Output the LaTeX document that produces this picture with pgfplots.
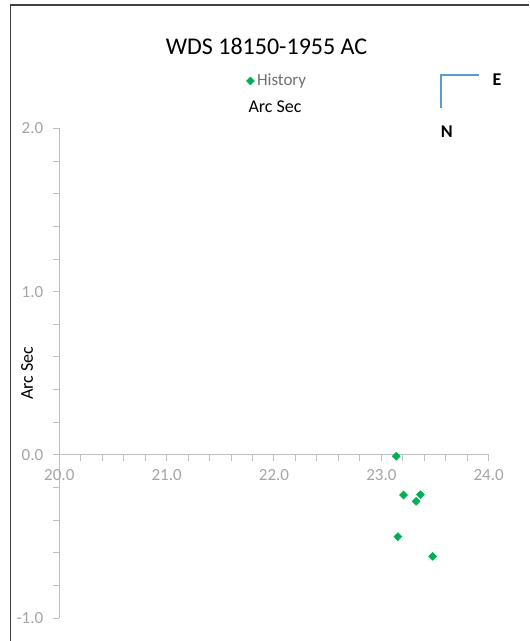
\documentclass[border=0pt]{standalone}
\usepackage{fontspec}
\setmainfont{Carlito}
\usepackage{pgfplots}
\pgfplotsset{compat=1.18}

\definecolor{axisgray}{HTML}{BFBFBF}
\definecolor{ticklabelgray}{HTML}{A5A5A5}
\definecolor{legendgray}{HTML}{707070}
\definecolor{markgreen}{HTML}{00B050}
\definecolor{compassblue}{HTML}{5B9BD5}
\definecolor{framegray}{HTML}{404040}

\begin{document}
\begin{tikzpicture}
\begin{axis}[
  at={(44.475pt,17.03pt)}, anchor=south west,
  x=80.51pt, y=122.48pt,
  xmin=20, xmax=24, ymin=-1, ymax=2,
  axis x line=middle, axis y line=left,
  axis line style={-, draw=axisgray, line width=0.75pt},
  hide obscured x ticks=false, hide obscured y ticks=false,
  xtick={20,21,22,23,24}, ytick={-1,0,1,2},
  minor x tick num=4, minor y tick num=4,
  tick align=outside,
  major tick length=4.5pt, minor tick length=4.5pt,
  every tick/.style={draw=axisgray, line width=0.75pt},
  /pgf/number format/.cd, fixed, fixed zerofill, precision=1, assume math mode=true,
  /pgfplots/.cd,
  tick label style={font=\fontsize{12.75}{14}\selectfont, text=ticklabelgray},
  xticklabel style={yshift=-3pt},
  yticklabel style={xshift=-4pt},
  clip=false,
  legend style={draw=none, fill=none, at={(0.5085,1.0968)}, anchor=center,
    font=\fontsize{12.75}{14}\selectfont, text=legendgray},
  legend image code/.code={\draw[mark repeat=2,mark phase=2,#1] plot coordinates {(0cm,0cm) (0.12cm,0cm) (0.38cm,0cm)};},
]
% measured separations
\addplot[only marks, mark=square*, mark size=2.1pt,
  mark options={rotate=45, draw=markgreen, fill=markgreen}] table {
x      y
23.139 -0.008
23.207 -0.245
23.364 -0.243
23.324 -0.284
23.154 -0.500
23.478 -0.621
};
\addlegendentry{History}
% orientation marker (north down, east right)
\addplot[compassblue, line width=1.3pt, forget plot] coordinates {
  (23.556,2.123) (23.556,2.328) (23.912,2.328)};
\end{axis}

\begin{scope}[x=0.75pt, y=-0.75pt, yshift=480.75pt]
  \draw[framegray, line width=1.2pt] (10.5,641) -- (10.5,5) -- (529,5);
  \node[font=\fontsize{18}{20}\selectfont] at (266.5,46) {WDS 18150-1955 AC};
  \node[font=\fontsize{13.5}{16}\selectfont] at (275,107) {Arc Sec};
  \node[font=\fontsize{13.5}{16}\selectfont, rotate=90] at (27,373) {Arc Sec};
  \node[font=\fontsize{13.5}{16}\selectfont\bfseries] at (497,80) {E};
  \node[font=\fontsize{13.5}{16}\selectfont\bfseries] at (446.7,132) {N};
\end{scope}

\pgfresetboundingbox
\useasboundingbox (0,0) rectangle (396.75pt,480.75pt);
\end{tikzpicture}
\end{document}
